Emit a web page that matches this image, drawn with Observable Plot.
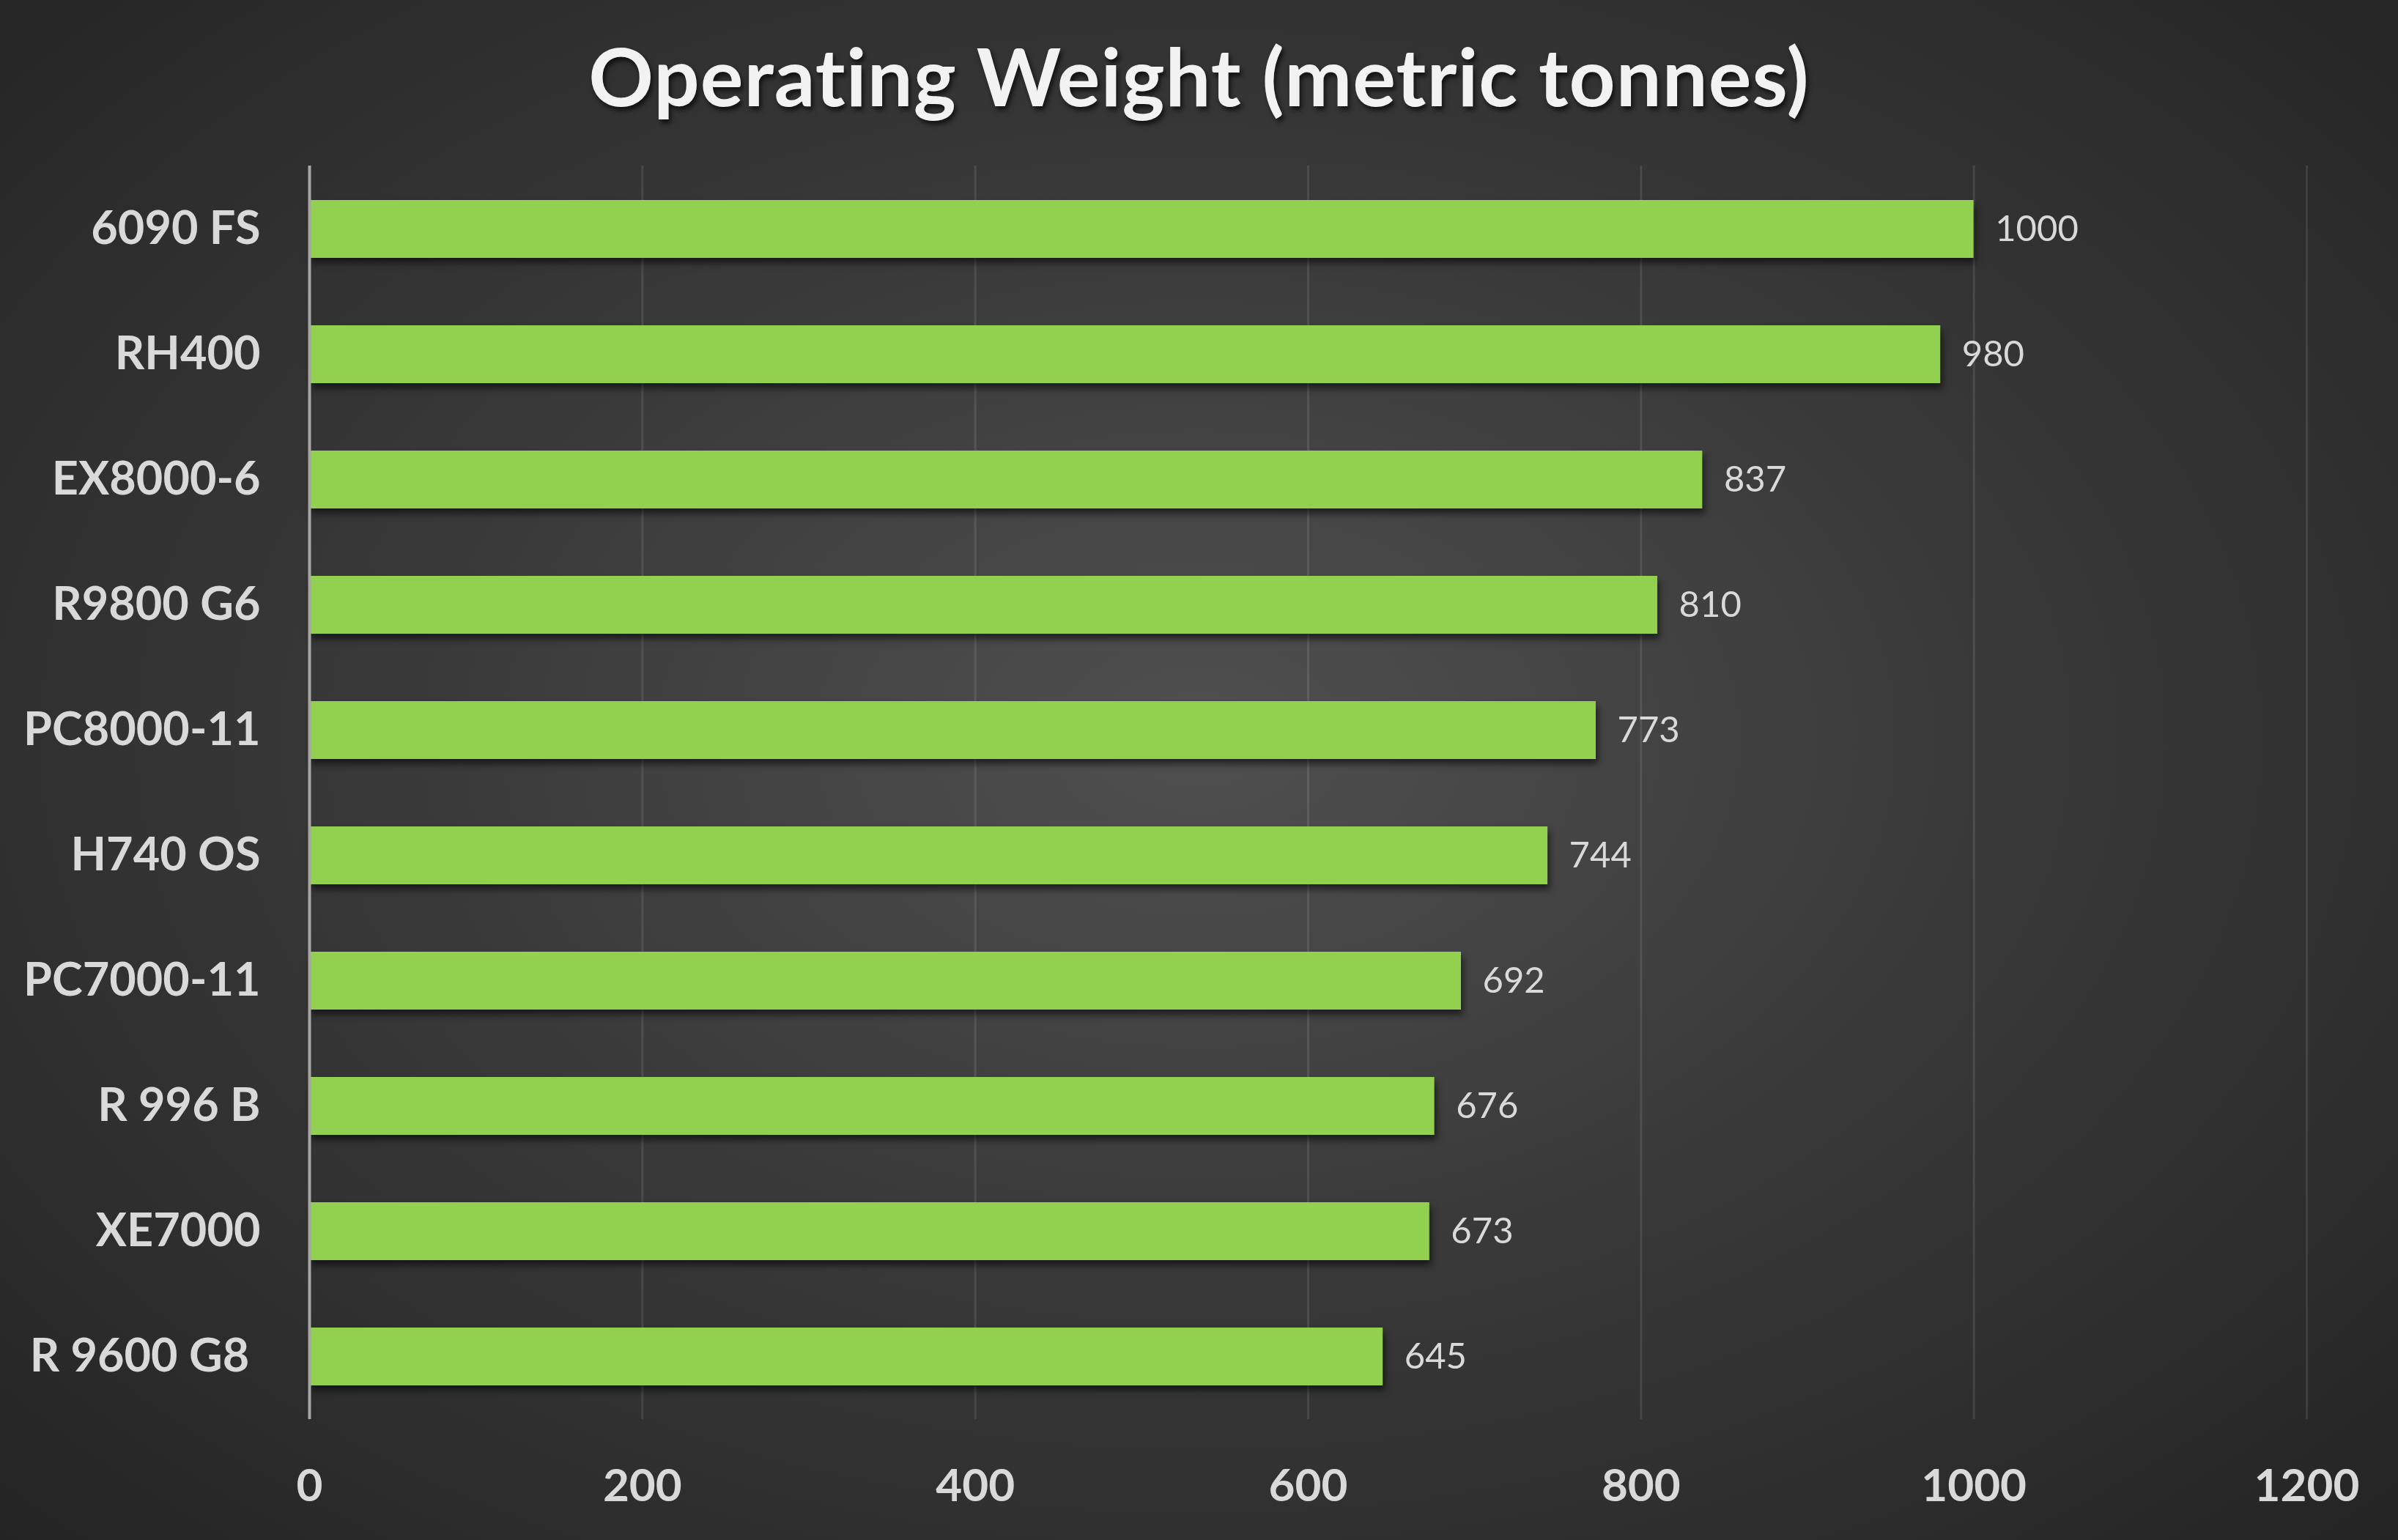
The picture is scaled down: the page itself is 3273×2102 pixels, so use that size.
<!DOCTYPE html>
<html>
<head>
<meta charset="utf-8">
<script src="https://cdn.jsdelivr.net/npm/d3@7"></script>
<script src="https://cdn.jsdelivr.net/npm/@observablehq/plot@0.6"></script>
<style>
  html, body { margin: 0; padding: 0; background: #2b2b2b; }
  #wrap {
    width: 3273px; height: 2102px; overflow: hidden;
    background: radial-gradient(ellipse farthest-corner at 50% 48%, #505050 0%, #3a3a3a 45%, #242424 100%);
    font-family: Lato, "Open Sans", sans-serif;
  }
  #title {
    height: 204px; display: flex; align-items: center; justify-content: center;
    color: #f2f2f2; font-weight: 700; font-size: 110px; letter-spacing: 1px;
    text-shadow: 3px 5px 6px rgba(0,0,0,0.65);
  }
  #chart svg { background: transparent; display: block; }
  #chart g[aria-label="bar"] rect { filter: drop-shadow(3px 7px 5px rgba(0,0,0,0.55)); }
</style>
</head>
<body>
<div id="wrap">
  <div id="title">Operating Weight (metric tonnes)</div>
  <div id="chart"></div>
</div>
<script>
const models = ["6090 FS", "RH400", "EX8000-6", "R9800 G6", "PC8000-11", "H740 OS", "PC7000-11", "R 996 B", "XE7000", "R 9600 G8\u00a0"];
const weights = [1000, 980, 837, 810, 773, 744, 692, 676, 673, 645];
const xTicks = [0, 200, 400, 600, 800, 1000, 1200];

const data = models.map((m, i) => ({model: m, weight: weights[i]}));

const chart = Plot.plot({
  width: 3273,
  height: 1898,
  marginTop: 22,
  marginBottom: 165,
  marginLeft: 422,
  marginRight: 125,
  style: {background: "transparent", fontFamily: "Lato, 'Open Sans', sans-serif", color: "#d9d9d9"},
  x: {domain: [0, 1200], ticks: xTicks, label: null},
  y: {domain: models, paddingInner: 0.54, paddingOuter: 0.27, label: null},
  marks: [
    Plot.gridX(xTicks.filter(d => d > 0), {stroke: "#ffffff", strokeOpacity: 0.1, strokeWidth: 3}),
    Plot.barX(data, {x: "weight", y: "model", fill: "#92D050"}),
    Plot.ruleX([0], {stroke: "#a6a6a6", strokeWidth: 4}),
    Plot.text(data, {x: "weight", y: "model", text: d => String(d.weight), dx: 29, textAnchor: "start", fontSize: 49, fill: "#d9d9d9"}),
    Plot.axisX({ticks: xTicks, tickFormat: d => String(d), tickSize: 0, tickPadding: 67, fontSize: 62, fontWeight: 700, fill: "#d9d9d9", label: null}),
    Plot.axisY({tickSize: 0, tickPadding: 67, fontSize: 63, fontWeight: 700, fill: "#d9d9d9", label: null})
  ]
});
document.getElementById("chart").appendChild(chart);
</script>
</body>
</html>
